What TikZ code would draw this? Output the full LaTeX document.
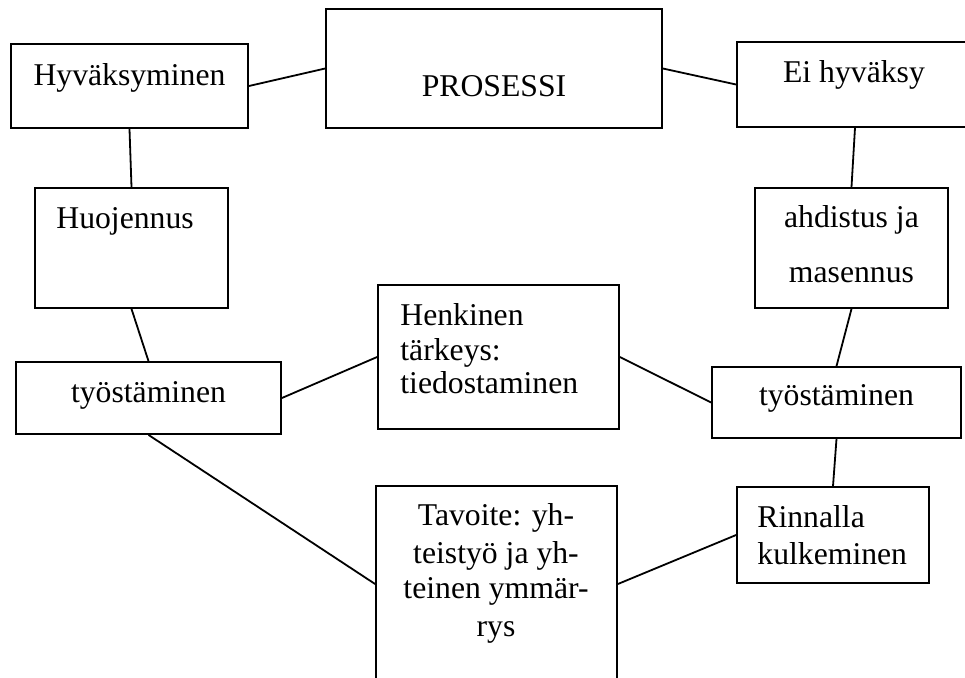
\documentclass[tikz,border=0pt]{standalone}
\usepackage{fontspec}
\setmainfont{Liberation Serif}
\usetikzlibrary{fit}
\begin{document}
\begin{tikzpicture}[x=0.5pt,y=-0.5pt,
  box/.style={draw, line width=0.9pt, inner sep=0pt, rectangle},
  link/.style={line width=0.9pt},
  txt/.style={inner sep=0pt, anchor=base, font=\fontsize{15.85pt}{19pt}\selectfont},
  txtl/.style={txt, anchor=base west}]
\useasboundingbox (0,0) rectangle (965,677);
% boxes
\node[box, fit={(11,44) (248,128)}] (hyv) {};
\node[box, fit={(326,9) (662,128)}] (pros) {};
\node[box, fit={(737,42) (973,127)}] (ei) {};
\node[box, fit={(35,188) (228,308)}] (huoj) {};
\node[box, fit={(755,188) (948,308)}] (ahd) {};
\node[box, fit={(378,285) (619,429)}] (henk) {};
\node[box, fit={(16,362) (281,434)}] (tyoL) {};
\node[box, fit={(712,367) (961,438)}] (tyoR) {};
\node[box, fit={(737,487) (929,583)}] (rinn) {};
\node[box, fit={(376,486) (617,682)}] (tav) {};
% texts
\node[txt] (t1) at (129.5,85) {Hyväksyminen};
\node[txt] (t2) at (494,96) {PROSESSI};
\node[txt] (t3) at (854,82) {Ei hyväksy};
\node[txtl] (t4) at (56,228) {Huojennus};
\node[txt] (t5a) at (851.5,227) {ahdistus ja};
\node[txt] (t5b) at (851.5,282) {masennus};
\node[txtl] (t6a) at (400,325) {Henkinen};
\node[txtl] (t6b) at (400,360) {tärkeys:};
\node[txtl] (t6c) at (400,393) {tiedostaminen};
\node[txt] (t7) at (148.5,402) {työstäminen};
\node[txt] (t8) at (836.5,405) {työstäminen};
\node[txtl] (t9a) at (757,527) {Rinnalla};
\node[txtl] (t9b) at (757,564) {kulkeminen};
\node[txt] (t10a) at (496,525) {Tavoite: yh-};
\node[txt] (t10b) at (496,563) {teistyö ja yh-};
\node[txt] (t10c) at (496,598) {teinen ymmär-};
\node[txt] (t10d) at (496,636) {rys};
% connectors
\draw[link] (hyv.east) -- (pros.west);
\draw[link] (pros.east) -- (ei.west);
\draw[link] (hyv.south) -- (huoj.north);
\draw[link] (ei.south) -- (ahd.north);
\draw[link] (huoj.south) -- (tyoL.north);
\draw[link] (ahd.south) -- (tyoR.north);
\draw[link] (tyoL.east) -- (henk.west);
\draw[link] (henk.east) -- (tyoR.west);
\draw[link] (tyoR.south) -- (rinn.north);
\draw[link] (rinn.west) -- (tav.east);
\draw[link] (tyoL.south) -- (tav.west);
\end{tikzpicture}
\end{document}
